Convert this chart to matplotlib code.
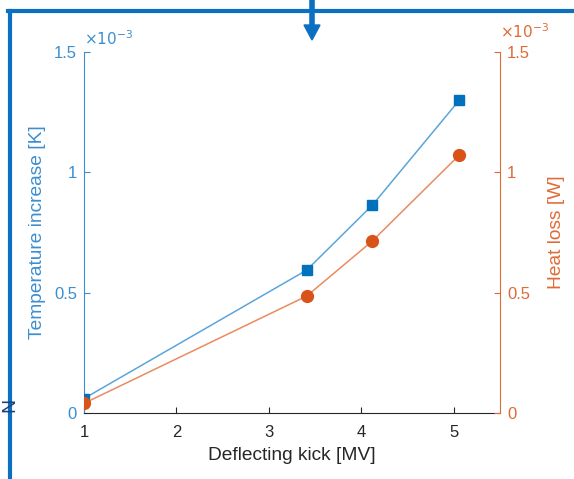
import numpy as np
import matplotlib
matplotlib.use("Agg")
import matplotlib.pyplot as plt
from matplotlib.lines import Line2D
from matplotlib.ticker import FuncFormatter

plt.rcParams['font.family'] = ['Liberation Sans', 'DejaVu Sans']

# data
kick = np.array([1.0, 3.41, 4.12, 5.06])             # MV
temp_rise = np.array([0.06, 0.594, 0.864, 1.30]) * 1e-3  # K
heat_loss = np.array([0.04, 0.486, 0.715, 1.072]) * 1e-3  # W
x_ticks = [1, 2, 3, 4, 5]
y_ticks = np.array([0, 0.5, 1, 1.5]) * 1e-3

blue_ax = '#3B8ED0'
blue_line = '#5AA5DC'
blue_mk = '#0072BD'
orng_ax = '#E06A35'
orng_line = '#EA8B60'
orng_mk = '#D95319'
frame = '#0B6FC2'

fig = plt.figure(figsize=(5.74, 4.79), dpi=100)
ax = fig.add_axes([0.1463, 0.1378, 0.7248, 0.7536])
ax2 = ax.twinx()

ax.plot(kick, temp_rise, '-', color=blue_line, lw=1.1, zorder=2)
ax.plot(kick, temp_rise, 's', color=blue_mk, ms=7, zorder=3)
ax2.plot(kick, heat_loss, '-', color=orng_line, lw=1.1, zorder=2)
ax2.plot(kick, heat_loss, 'o', color=orng_mk, ms=8.5, zorder=3)

fmt = FuncFormatter(lambda v, p: ('%g' % round(v * 1e3, 3)))
for a in (ax, ax2):
    a.set_xlim(1, 5.5)
    a.set_ylim(0, 1.5e-3)
    a.set_yticks(y_ticks)
    a.yaxis.set_major_formatter(fmt)
    a.spines['top'].set_visible(False)
    a.tick_params(direction='in', length=4, labelsize=12)
ax.set_xticks(x_ticks)

ax.spines['left'].set_color(blue_ax)
ax.spines['right'].set_visible(False)
ax.spines['bottom'].set_color('#262626')
ax.tick_params(axis='y', colors=blue_ax, pad=5)
ax.tick_params(axis='x', colors='#262626', pad=9)
ax2.spines['right'].set_color(orng_ax)
ax2.spines['left'].set_visible(False)
ax2.spines['bottom'].set_visible(False)
ax2.tick_params(axis='y', colors=orng_ax, pad=5)

ax.set_xlabel('Deflecting kick [MV]', fontsize=13.8, color='#262626', labelpad=5)
ax.set_ylabel('Temperature increase [K]', fontsize=13.8, color=blue_ax, labelpad=6)
ax2.set_ylabel('Heat loss [W]', fontsize=13.8, color=orng_ax, labelpad=13)

ax.text(0.0, 1.012, r'$\times10^{-3}$', transform=ax.transAxes, color=blue_ax,
        fontsize=11, ha='left', va='bottom', math_fontfamily='dejavusans')
ax2.text(1.0, 1.03, r'$\times10^{-3}$', transform=ax.transAxes, color=orng_ax,
         fontsize=11, ha='left', va='bottom', math_fontfamily='dejavusans')

# screenshot frame around the figure
fig.add_artist(Line2D([8 / 574, 1.0], [1 - 11 / 479] * 2, color=frame, lw=3))
fig.add_artist(Line2D([10 / 574] * 2, [0, 1 - 11 / 479], color=frame, lw=3))
fig.add_artist(Line2D([312 / 574] * 2, [1.0, 1 - 28 / 479], color=frame, lw=4))
fig.add_artist(plt.Polygon([[304 / 574, 1 - 25 / 479], [320 / 574, 1 - 25 / 479],
                            [312 / 574, 1 - 40 / 479]], closed=True, color=frame))
fig.text(1 / 574, 1 - 405 / 479, 'N', rotation=90, color='#1F3F7A', fontsize=14,
         ha='left', va='center')

fig.savefig('out.png', dpi=100)
